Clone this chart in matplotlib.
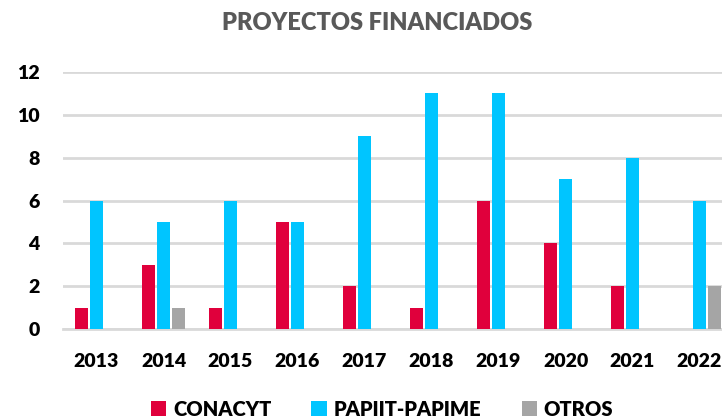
"""Proyectos financiados por año y fuente de financiamiento."""

import matplotlib.pyplot as plt
import numpy as np

# DATOS

years = ["2013", "2014", "2015", "2016", "2017", "2018", "2019", "2020", "2021", "2022"]
conacyt = [1, 3, 1, 5, 2, 1, 6, 4, 2, 0]
papiit_papime = [6, 5, 6, 5, 9, 11, 11, 7, 8, 6]
otros = [0, 1, 0, 0, 0, 0, 0, 0, 0, 2]
series_names = ["CONACYT", "PAPIIT-PAPIME", "OTROS"]
y_ticks = [0, 2, 4, 6, 8, 10, 12]

colors = ["#E0003C", "#00C5FF", "#A5A5A5"]

plt.rcParams["font.family"] = ["Lato", "DejaVu Sans"]
plt.rcParams["font.weight"] = "heavy"

# FIGURA

fig = plt.figure(figsize=(7.22, 4.2), dpi=100)
ax = fig.add_axes([63 / 722, 1 - 329 / 420, 670 / 722, 257 / 420])

x = np.arange(len(years))
bar_w = 0.18
step = 0.224
for k, (values, name, color) in enumerate(zip([conacyt, papiit_papime, otros], series_names, colors)):
    ax.bar(x + (k - 1) * step, values, width=bar_w, color=color, label=name, zorder=3)

ax.set_xlim(-0.5, len(years) - 0.5)
ax.set_ylim(0, 12)
ax.set_yticks(y_ticks)
ax.set_xticks(x)
ax.set_xticklabels(years)
ax.tick_params(axis="both", length=0, labelsize=14, colors="black")
ax.tick_params(axis="y", pad=17)
ax.tick_params(axis="x", pad=17)
for lbl in ax.get_xticklabels() + ax.get_yticklabels():
    lbl.set_fontweight("heavy")

ax.grid(axis="y", color="#D9D9D9", linewidth=2, zorder=0)
for side in ["top", "right", "left"]:
    ax.spines[side].set_visible(False)
ax.spines["bottom"].set_color("#D9D9D9")
ax.spines["bottom"].set_linewidth(2)

fig.text(0.523, 1 - 23 / 420, "PROYECTOS FINANCIADOS", ha="center", va="center",
         fontsize=17, fontweight="heavy", color="#595959")

fig.legend(loc="center", bbox_to_anchor=(382 / 722, 1 - 409 / 420), ncol=3, frameon=False,
           handlelength=0.75, handleheight=0.75, handletextpad=0.35,
           columnspacing=2.0, prop={"weight": "heavy", "size": 14.5})

fig.savefig("out.png", dpi=100)
